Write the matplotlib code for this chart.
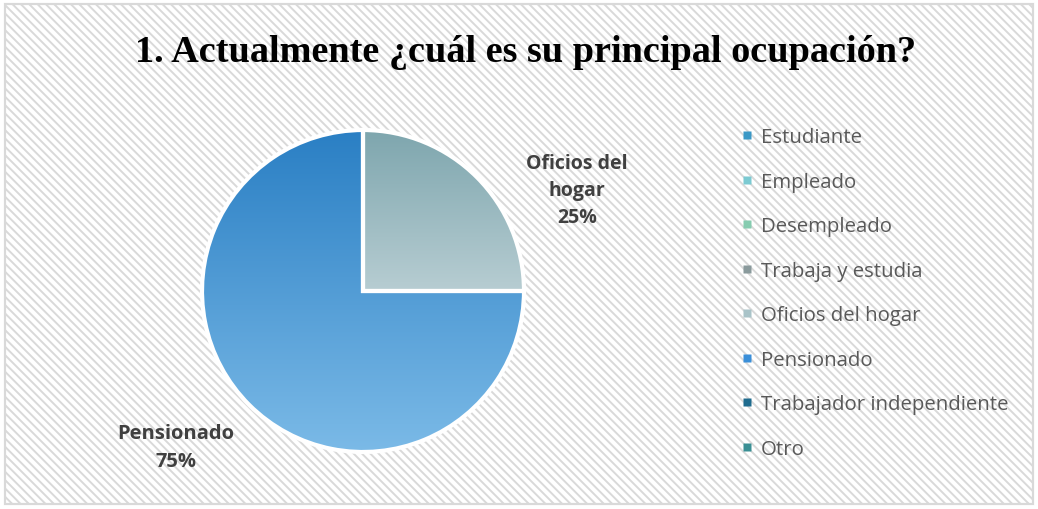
import numpy as np
import matplotlib.pyplot as plt
from matplotlib.patches import Rectangle
from matplotlib.lines import Line2D
from matplotlib.colors import LinearSegmentedColormap

# Data
categories = ['Estudiante', 'Empleado', 'Desempleado', 'Trabaja y estudia',
              'Oficios del hogar', 'Pensionado', 'Trabajador independiente', 'Otro']
values = [0, 0, 0, 0, 25, 75, 0, 0]
legend_colors = ['#3a98c6', '#7ccad2', '#86ccb0', '#8a9a9c',
                 '#a9c3c8', '#3a8fd9', '#1f6b8e', '#3a8f94']
# gradient (top, bottom) for the visible slices
gradients = {'Oficios del hogar': ('#7ea6ae', '#b7cdd2'),
             'Pensionado': ('#2a7fc4', '#7bbae7')}
title = '1. Actualmente ¿cuál es su principal ocupación?'

plt.rcParams['hatch.linewidth'] = 1.4
plt.rcParams['hatch.color'] = '#dcdcdc'

fig = plt.figure(figsize=(10.38, 5.10), dpi=100)

# hatched background with grey border
bg = Rectangle((5 / 1038, 5 / 510), 1028 / 1038, 500 / 510, transform=fig.transFigure,
               facecolor='white', edgecolor='#d9d9d9', hatch='\\\\\\\\', linewidth=1.5, zorder=-2)
fig.patches.append(bg)
border = Rectangle((5 / 1038, 5 / 510), 1028 / 1038, 500 / 510, transform=fig.transFigure,
                   facecolor='none', edgecolor='#d9d9d9', linewidth=1.5, zorder=-1)
fig.patches.append(border)

fig.text(526 / 1038, 1 - 53 / 510, title, ha='center', va='center',
         fontsize=27.5, fontweight='bold', family='Liberation Serif', color='black')

# pie axes: centre (363, 292), radius 161 px
pad = 175
ax = fig.add_axes([(363 - pad) / 1038, (510 - 292 - pad) / 510, 2 * pad / 1038, 2 * pad / 510])
ax.patch.set_alpha(0)

wedges, _ = ax.pie(values, startangle=90, counterclock=False, radius=1,
                   colors=legend_colors,
                   wedgeprops=dict(edgecolor='white', linewidth=3))

for w, name in zip(wedges, categories):
    if name in gradients:
        top, bot = gradients[name]
        cmap = LinearSegmentedColormap.from_list(name, [bot, top])
        if name == 'Oficios del hogar':
            ext = (0, 1, 0, 1)
        else:
            ext = (-1, 1, -1, 1)
        grad = np.linspace(1, 0, 256).reshape(-1, 1)
        im = ax.imshow(grad, cmap=cmap, extent=ext, aspect='auto', zorder=1,
                       vmin=0, vmax=1)
        im.set_clip_path(w)
        w.set_facecolor('none')
        w.set_zorder(2)

ax.set_xlim(-pad / 161, pad / 161)
ax.set_ylim(-pad / 161, pad / 161)
ax.set_aspect('equal')
ax.axis('off')

fig.text(577 / 1038, 1 - 191 / 510, 'Oficios del\nhogar\n25%', ha='center', va='center',
         fontsize=14, fontweight='bold', family='Open Sans', color='#404040',
         linespacing=1.45)
fig.text(176 / 1038, 1 - 448 / 510, 'Pensionado\n75%', ha='center', va='center',
         fontsize=14.5, fontweight='bold', family='Open Sans', color='#404040',
         linespacing=1.5)

handles = [Line2D([0], [0], marker='s', linestyle='none', markersize=6,
                  markerfacecolor=c, markeredgecolor='none') for c in legend_colors]
leg = fig.legend(handles, categories, loc='upper left',
                 bbox_to_anchor=(733 / 1038, 1 - 120 / 510), frameon=False,
                 prop={'family': 'Open Sans', 'size': 14.7}, labelspacing=1.2,
                 handlelength=0.6, handletextpad=0.35, borderaxespad=0)
for t in leg.get_texts():
    t.set_color('#595959')

fig.savefig('out.png', dpi=100)
